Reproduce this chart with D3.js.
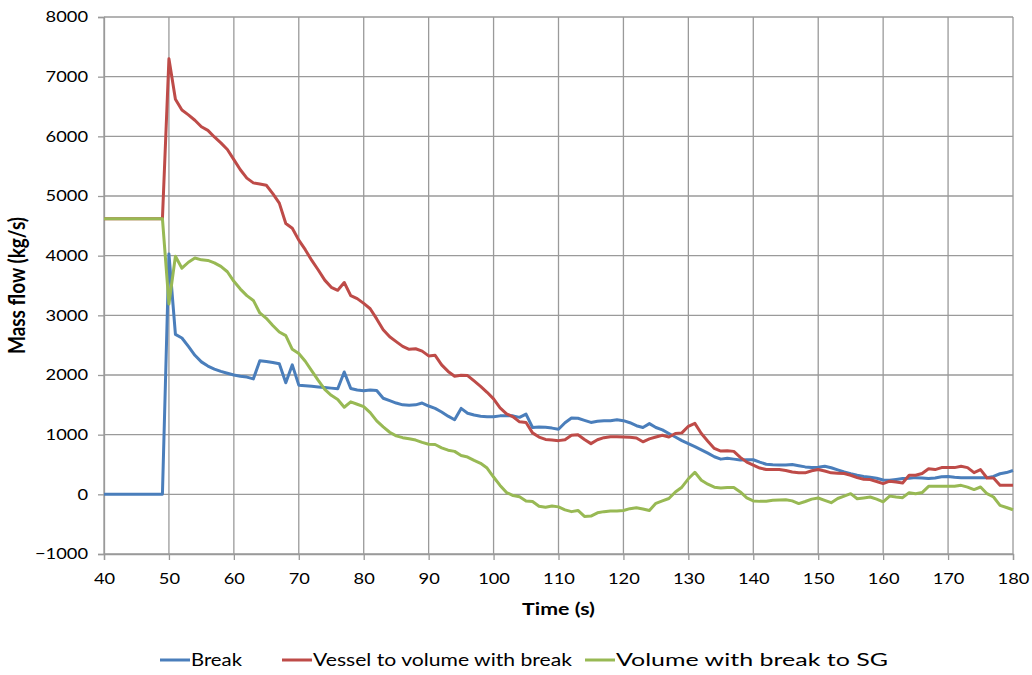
<!DOCTYPE html>
<html>
<head>
<meta charset="utf-8">
<script src="https://cdn.jsdelivr.net/npm/d3@7/dist/d3.min.js"></script>
<style>
  html, body { margin: 0; padding: 0; background: #fff; }
  svg { display: block; font-family: Lato, "Open Sans", sans-serif; }
</style>
</head>
<body>
<svg id="chart" width="1032" height="675"></svg>
<script>
// Time grid (s), one sample per second
const time = d3.range(40, 181);

// Mass flow through the break (kg/s)
const breakFlow = [
  0, 0, 0, 0, 0, 0, 0, 0, 0, 0,
  4030, 2680, 2620, 2480, 2330, 2220, 2150, 2100, 2060, 2030,
  2000, 1980, 1965, 1935, 2240, 2225, 2210, 2190, 1870, 2170,
  1830, 1820, 1810, 1800, 1790, 1780, 1770, 2050, 1775, 1750,
  1735, 1750, 1740, 1610, 1570, 1530, 1500, 1495, 1500, 1530,
  1480, 1440, 1380, 1310, 1250, 1440, 1360, 1330, 1310, 1300,
  1300, 1315, 1315, 1315, 1290, 1345, 1120, 1130, 1125, 1110,
  1090, 1200, 1280, 1275, 1240, 1205, 1225, 1235, 1235, 1250,
  1235, 1200, 1150, 1120, 1185, 1120, 1080, 1020, 960, 900,
  850, 800, 745, 690, 630, 590, 605, 590, 575, 580,
  580, 540, 505, 495, 490, 490, 500, 480, 460, 450,
  455, 470, 445, 410, 375, 345, 320, 300, 285, 270,
  240, 235, 250, 265, 270, 280, 275, 265, 275, 295,
  300, 285, 280, 280, 280, 280, 280, 300, 345, 365,
  400
];

// Mass flow from the vessel to the volume with the break (kg/s)
const vesselFlow = [
  4620, 4620, 4620, 4620, 4620, 4620, 4620, 4620, 4620, 4620,
  7300, 6620, 6440, 6360, 6270, 6160, 6100, 5990, 5890, 5780,
  5610, 5440, 5300, 5220, 5200, 5180, 5040, 4880, 4540, 4460,
  4260, 4100, 3920, 3760, 3590, 3470, 3420, 3550, 3330, 3280,
  3200, 3110, 2940, 2760, 2640, 2560, 2480, 2430, 2440, 2400,
  2320, 2330, 2170, 2060, 1980, 1995, 1990, 1900, 1810, 1710,
  1600, 1450, 1350, 1300, 1215, 1205, 1030, 960, 920, 910,
  900, 915, 990, 1000, 920, 850, 915, 950, 965, 965,
  960, 955, 945, 880, 930, 960, 990, 960, 1020, 1030,
  1140, 1190, 1020, 890, 770, 725, 730, 720, 620, 540,
  490, 440, 415, 415, 415, 400, 375, 360, 360, 395,
  415, 390, 360, 355, 350, 320, 280, 252, 247, 215,
  180, 220, 205, 190, 319, 319, 350, 430, 415, 448,
  448, 448, 470, 448, 364, 415, 274, 274, 151, 151,
  151
];

// Mass flow from the volume with the break to the steam generator (kg/s)
const sgFlow = [
  4620, 4620, 4620, 4620, 4620, 4620, 4620, 4620, 4620, 4620,
  3190, 3990, 3790, 3890, 3960, 3930, 3920, 3880, 3820, 3730,
  3570, 3440, 3330, 3250, 3040, 2950, 2830, 2720, 2660, 2430,
  2360, 2230, 2070, 1910, 1760, 1660, 1590, 1460, 1550, 1510,
  1470, 1370, 1230, 1130, 1040, 980, 950, 930, 910, 870,
  840, 835, 780, 740, 720, 650, 625, 570, 520, 440,
  290, 150, 30, -20, -40, -110, -120, -200, -215, -195,
  -210, -260, -290, -270, -370, -365, -310, -290, -280, -280,
  -270, -240, -225, -245, -270, -150, -110, -70, 40, 120,
  260, 370, 235, 170, 120, 105, 115, 115, 40, -60,
  -110, -118, -115, -100, -95, -90, -110, -155, -120, -80,
  -62, -100, -140, -70, -30, 11, -73, -60, -45, -80,
  -125, -30, -45, -56, 28, 11, 30, 134, 134, 134,
  134, 134, 151, 120, 79, 123, 11, -45, -185, -220,
  -258
];

const seriesNames = ["Break", "Vessel to volume with break", "Volume with break to SG"];
const seriesColors = ["#4A7EBB", "#BE4B48", "#98B954"];
const seriesValues = [breakFlow, vesselFlow, sgFlow];

const xTicks = d3.range(40, 181, 10);
const yTicks = d3.range(-1000, 8001, 1000);

const svg = d3.select("#chart");
const margin = { left: 104, right: 19, top: 17, bottom: 121 };
const W = 1032, H = 675;

// horizontal stretch applied to all lettering
const SX = 1.22;

const x = d3.scaleLinear().domain([40, 180]).range([margin.left, W - margin.right]);
const y = d3.scaleLinear().domain([-1000, 8000]).range([H - margin.bottom, margin.top]);

const gridColor = "#9a9a9a";

// move a text's position into a transform so it can be widened about its anchor
function widen(sel, sx) {
  sel.each(function () {
    const t = d3.select(this);
    const tx = +t.attr("x") || 0, ty = +t.attr("y") || 0;
    t.attr("x", 0).attr("y", 0).attr("transform", `translate(${tx},${ty}) scale(${sx},1)`);
  });
}

// Gridlines
const grid = svg.append("g");
grid.selectAll("line.h").data(yTicks).join("line")
  .attr("x1", x(40)).attr("x2", x(180))
  .attr("y1", d => y(d)).attr("y2", d => y(d))
  .attr("stroke", gridColor).attr("stroke-width", 1.3);
grid.selectAll("line.v").data(xTicks).join("line")
  .attr("x1", d => x(d)).attr("x2", d => x(d))
  .attr("y1", y(8000)).attr("y2", y(-1000))
  .attr("stroke", gridColor).attr("stroke-width", 1.3);

// Axes
const yAxis = svg.append("g")
  .attr("transform", `translate(${x(40)},0)`)
  .call(d3.axisLeft(y).tickValues(yTicks).tickSize(6).tickPadding(10).tickFormat(d3.format("d")));
const xAxis = svg.append("g")
  .attr("transform", `translate(0,${y(-1000)})`)
  .call(d3.axisBottom(x).tickValues(xTicks).tickSize(6).tickPadding(10).tickFormat(d3.format("d")));
[yAxis, xAxis].forEach(g => {
  g.select(".domain").attr("stroke", gridColor).attr("stroke-width", 1.3);
  g.selectAll(".tick line").attr("stroke", gridColor).attr("stroke-width", 1.3);
  g.selectAll(".tick text").attr("fill", "#000").style("font-size", "15px")
    .style("font-family", "Lato, 'Open Sans', sans-serif");
});
xAxis.selectAll(".tick text").attr("dy", "0.95em");
widen(yAxis.selectAll(".tick text"), SX);
widen(xAxis.selectAll(".tick text"), SX);

// Axis titles
svg.append("text")
  .attr("transform", `translate(${(x(40) + x(180)) / 2},615) scale(${SX},1)`)
  .attr("text-anchor", "middle")
  .style("font-size", "17.5px").style("font-weight", "bold")
  .text("Time (s)");
svg.append("text")
  .attr("transform", `translate(25,${(y(8000) + y(-1000)) / 2}) scale(${SX},1) rotate(-90)`)
  .attr("text-anchor", "middle")
  .style("font-size", "19px").style("font-weight", "bold")
  .text("Mass flow (kg/s)");

// Series lines
const line = d3.line().x(d => x(d[0])).y(d => y(d[1]));
seriesValues.forEach((vals, i) => {
  svg.append("path")
    .datum(time.map((t, k) => [t, vals[k]]))
    .attr("fill", "none")
    .attr("stroke", seriesColors[i])
    .attr("stroke-width", 3)
    .attr("stroke-linejoin", "round")
    .attr("d", line);
});

// Legend
const legendX = [160, 282, 585];
const legendWidths = [51, 259, 272];
const legend = svg.append("g");
seriesNames.forEach((name, i) => {
  legend.append("line")
    .attr("x1", legendX[i]).attr("x2", legendX[i] + 30)
    .attr("y1", 660).attr("y2", 660)
    .attr("stroke", seriesColors[i]).attr("stroke-width", 3);
  legend.append("text")
    .attr("x", legendX[i] + 31).attr("y", 666)
    .attr("textLength", legendWidths[i])
    .attr("lengthAdjust", "spacingAndGlyphs")
    .style("font-size", "17.5px")
    .text(name);
});
</script>
</body>
</html>
